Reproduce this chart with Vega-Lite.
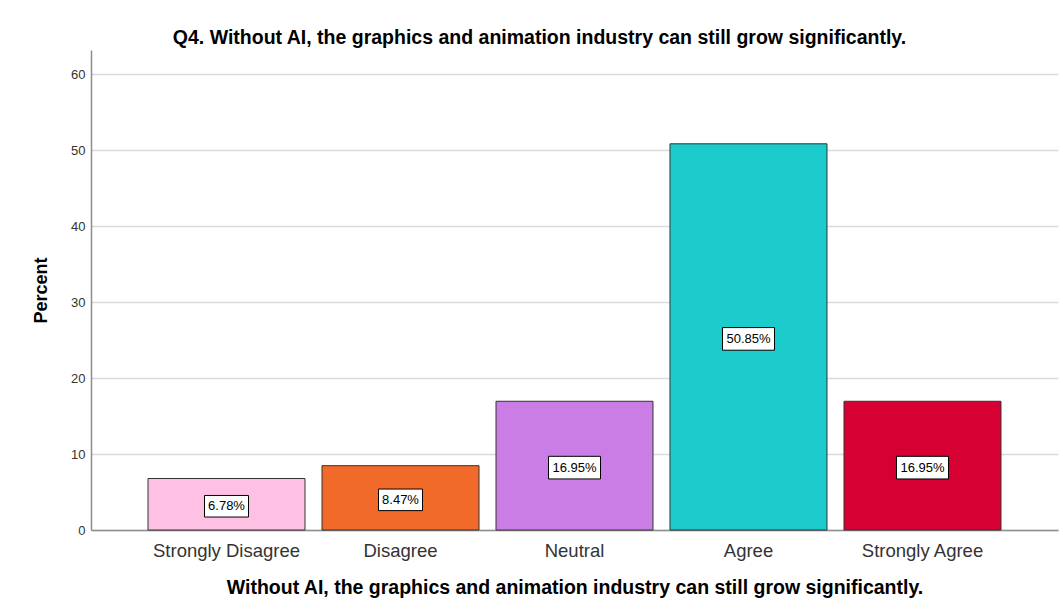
{
  "$schema": "https://vega.github.io/schema/vega-lite/v6.json",
  "width": 1063,
  "height": 615,
  "autosize": {"type": "fit", "contains": "padding"},
  "padding": {"left": 32, "top": 27, "right": 5, "bottom": 18},
  "background": "white",
  "config": {"font": "Liberation Sans", "view": {"stroke": null}},
  "title": {
    "text": "Q4.  Without AI, the graphics and animation industry can still grow significantly.",
    "fontSize": 19.5,
    "fontWeight": "bold",
    "color": "#000000",
    "offset": 2,
    "dx": -35
  },
  "data": {
    "values": [
      {"category": "Strongly Disagree", "pct": 6.78, "label": "6.78%"},
      {"category": "Disagree", "pct": 8.47, "label": "8.47%"},
      {"category": "Neutral", "pct": 16.95, "label": "16.95%"},
      {"category": "Agree", "pct": 50.85, "label": "50.85%"},
      {"category": "Strongly Agree", "pct": 16.95, "label": "16.95%"}
    ]
  },
  "layer": [
    {
      "mark": {"type": "bar", "stroke": "#333333", "strokeWidth": 1},
      "encoding": {
        "x": {
          "field": "category",
          "type": "nominal",
          "sort": null,
          "scale": {"paddingInner": 0.0977, "paddingOuter": 0.3276},
          "axis": {
            "labelAngle": 0,
            "labelFontSize": 18.5,
            "labelColor": "#333333",
            "labelPadding": 11,
            "ticks": false,
            "domainColor": "#8c8c8c",
            "domainWidth": 1.5,
            "grid": false,
            "titleFontSize": 19.5,
            "titleFontWeight": "bold",
            "titleColor": "#000000",
            "titlePadding": 19
          },
          "title": "Without AI, the graphics and animation industry can still grow significantly."
        },
        "y": {
          "field": "pct",
          "type": "quantitative",
          "scale": {"domain": [0, 63.2], "nice": false},
          "axis": {
            "values": [0, 10, 20, 30, 40, 50, 60],
            "title": "Percent",
            "titleFontSize": 18,
            "titleFontWeight": "bold",
            "titleColor": "#000000",
            "titlePadding": 20,
            "labelFontSize": 13,
            "labelColor": "#333333",
            "labelPadding": 6,
            "ticks": false,
            "domainColor": "#8c8c8c",
            "domainWidth": 1.5,
            "grid": true,
            "gridColor": "#d9d9d9",
            "gridWidth": 1.5
          }
        },
        "color": {
          "field": "category",
          "type": "nominal",
          "sort": null,
          "scale": {
            "domain": ["Strongly Disagree", "Disagree", "Neutral", "Agree", "Strongly Agree"],
            "range": ["#ffc1e3", "#f26a2a", "#ca7de4", "#1ccccc", "#d60032"]
          },
          "legend": null
        }
      }
    },
    {
      "encoding": {
        "x": {"field": "category", "type": "nominal", "sort": null},
        "y": {
          "field": "pct",
          "type": "quantitative",
          "scale": {"domain": [0, 126.4], "nice": false},
          "axis": null
        }
      },
      "layer": [
        {
          "mark": {
            "type": "point",
            "filled": true,
            "fill": "white",
            "stroke": "#000000",
            "strokeWidth": 1,
            "opacity": 1,
            "fillOpacity": 1,
            "yOffset": 2
          },
          "encoding": {
            "size": {"condition": {"test": "datum.pct < 10", "value": 1936}, "value": 2704},
            "shape": {
              "condition": {"test": "datum.pct < 10", "value": "M-1,-0.49L1,-0.49L1,0.49L-1,0.49Z"},
              "value": "M-1,-0.435L1,-0.435L1,0.435L-1,0.435Z"
            }
          }
        },
        {
          "mark": {"type": "text", "fontSize": 13, "color": "#000000", "yOffset": 2, "baseline": "middle", "align": "center"},
          "encoding": {"text": {"field": "label", "type": "nominal"}}
        }
      ]
    }
  ],
  "resolve": {"scale": {"y": "independent"}}
}
